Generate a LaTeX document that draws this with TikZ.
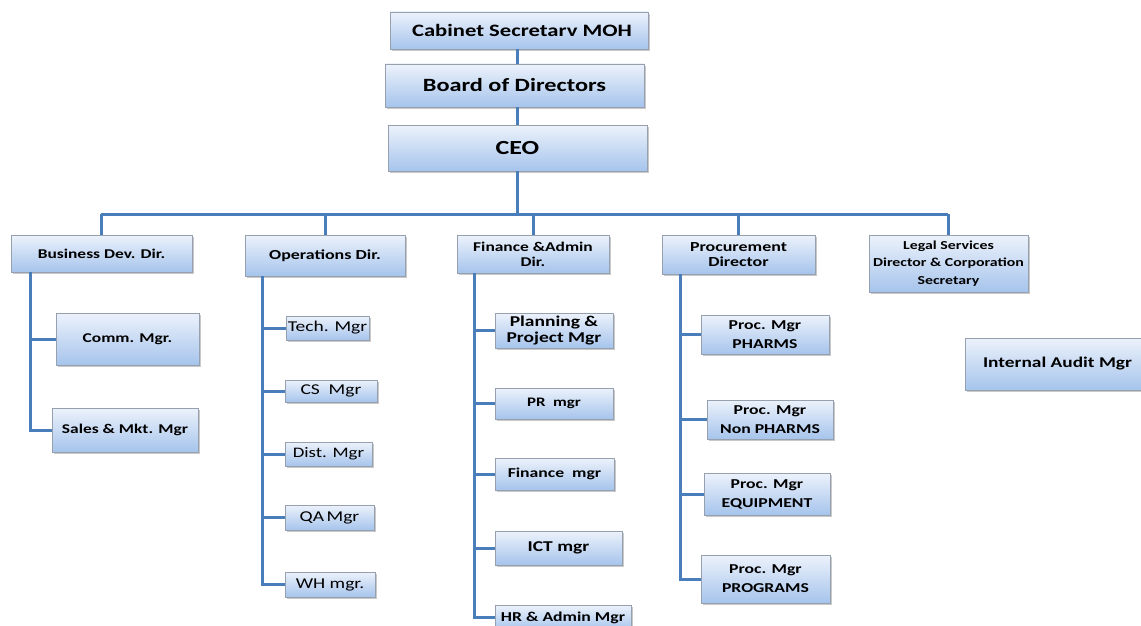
\documentclass[tikz,border=0pt]{standalone}
\usepackage{fontspec}
\setmainfont[FakeStretch=1.3]{Carlito}
\usetikzlibrary{shadows}
\definecolor{linec}{RGB}{74,126,187}
\definecolor{topc}{RGB}{236,242,251}
\definecolor{botc}{RGB}{166,196,236}
\definecolor{edgec}{RGB}{150,160,175}
\tikzset{
  bx/.style={draw=edgec, line width=0.6pt, top color=topc, bottom color=botc,
    drop shadow={shadow xshift=1.5pt, shadow yshift=-2pt, opacity=0.35, fill=black!60},
    align=center, inner sep=1pt, text=black},
  conn/.style={draw=linec, line width=3pt},
}
\newcommand{\bx}[7]{\node[bx, minimum width={#4-#2}, minimum height={#5-#3}, font=#7] (#1) at ({(#2+#4)/2},{(#3+#5)/2}) {#6};}
\begin{document}
\begin{tikzpicture}[x=1pt,y=-1pt]
\useasboundingbox[fill=white] (0,0) rectangle (1141,626);
\coordinate (busL) at (101,214);
\coordinate (busR) at (948,214);
\coordinate (spine) at (517,0);
% top chain
\bx{cab}{390}{12}{648}{49}{\hspace*{6pt}Cabinet Secretarv MOH}{\bfseries\fontsize{17.4}{20}\selectfont}
\bx{board}{385}{64}{644}{107}{Board of Directors}{\bfseries\fontsize{18.7}{20}\selectfont}
\bx{ceo}{388}{125}{647}{171}{CEO}{\bfseries\fontsize{20}{22}\selectfont}
% directors
\bx{bd}{11}{235}{192}{272}{Business Dev. Dir.}{\bfseries\fontsize{13.4}{14}\selectfont}
\bx{op}{245}{235}{405}{276}{Operations Dir.}{\bfseries\fontsize{13.8}{14}\selectfont}
\bx{fin}{457}{235}{609}{273}{Finance \&Admin\\Dir.}{\bfseries\fontsize{13.4}{15}\selectfont}
\bx{proc}{662}{235}{815}{274}{Procurement\\Director}{\bfseries\fontsize{13.8}{15}\selectfont}
\bx{legal}{869}{235}{1028}{292}{Legal Services\\Director \& Corporation\\Secretary}{\bfseries\fontsize{12.2}{17.5}\selectfont}
% business
\bx{comm}{56}{313}{199}{365}{Comm. Mgr.}{\bfseries\fontsize{13.4}{15}\selectfont}
\bx{sales}{52}{408}{198}{452}{Sales \& Mkt. Mgr}{\bfseries\fontsize{13.4}{15}\selectfont}
% operations
\bx{tech}{286}{316}{369}{340}{Tech. Mgr}{\fontsize{15}{16}\selectfont}
\bx{cs}{285}{380}{377}{402}{CS\ \ Mgr}{\fontsize{15}{16}\selectfont}
\bx{dist}{285}{442}{372}{466}{Dist. Mgr}{\fontsize{14.5}{16}\selectfont}
\bx{qa}{285}{505}{374}{530}{QA\,Mgr}{\fontsize{15}{16}\selectfont}
\bx{wh}{285}{572}{375}{597}{WH mgr.}{\fontsize{15}{16}\selectfont}
% finance
\bx{plan}{495}{313}{613}{348}{Planning \&\\Project Mgr}{\bfseries\fontsize{15}{15.5}\selectfont}
\bx{pr}{495}{388}{613}{419}{PR\ \ mgr}{\bfseries\fontsize{13}{15}\selectfont}
\bx{finm}{495}{458}{614}{490}{Finance\ \ mgr}{\bfseries\fontsize{13.6}{15}\selectfont}
\bx{ict}{495}{531}{622}{565}{ICT mgr}{\bfseries\fontsize{15}{15}\selectfont}
\bx{hr}{495}{605}{631}{630}{HR \& Admin Mgr}{\bfseries\fontsize{13.6}{15}\selectfont}
% procurement
\bx{pph}{701}{315}{829}{354}{Proc. Mgr\\PHARMS}{\bfseries\fontsize{13.6}{19}\selectfont}
\bx{pnp}{707}{400}{833}{439}{Proc. Mgr\\Non PHARMS}{\bfseries\fontsize{13.6}{19}\selectfont}
\bx{peq}{704}{473}{830}{515}{Proc. Mgr\\EQUIPMENT}{\bfseries\fontsize{13.6}{19}\selectfont}
\bx{ppg}{701}{555}{830}{603}{Proc. Mgr\\PROGRAMS}{\bfseries\fontsize{13.6}{19}\selectfont}
% internal audit
\bx{audit}{965}{338}{1150}{390}{Internal Audit Mgr}{\bfseries\fontsize{14.9}{16}\selectfont}
% connectors
\draw[conn] (cab.south -| spine) -- (board.north -| spine);
\draw[conn] (board.south -| spine) -- (ceo.north -| spine);
\draw[conn] (ceo.south -| spine) -- (spine |- busL);
\draw[conn] (busL) -- (busR);
\foreach \n in {bd,op,fin,proc,legal} \draw[conn] (\n.north |- busL) -- (\n.north);
% business
\coordinate (bdv) at (30,272);
\draw[conn] (bdv) |- (sales.west);
\draw[conn] (bdv |- comm.west) -- (comm.west);
% operations
\coordinate (opv) at (262,276);
\draw[conn] (opv) |- (wh.west);
\foreach \n in {tech,cs,dist,qa} \draw[conn] (opv |- \n.west) -- (\n.west);
% finance
\coordinate (fiv) at (474,273);
\draw[conn] (fiv) |- (hr.west);
\foreach \n in {plan,pr,finm,ict} \draw[conn] (fiv |- \n.west) -- (\n.west);
% procurement
\coordinate (prv) at (680,274);
\draw[conn] (prv) |- (ppg.west);
\foreach \n in {pph,pnp,peq} \draw[conn] (prv |- \n.west) -- (\n.west);
\end{tikzpicture}
\end{document}
